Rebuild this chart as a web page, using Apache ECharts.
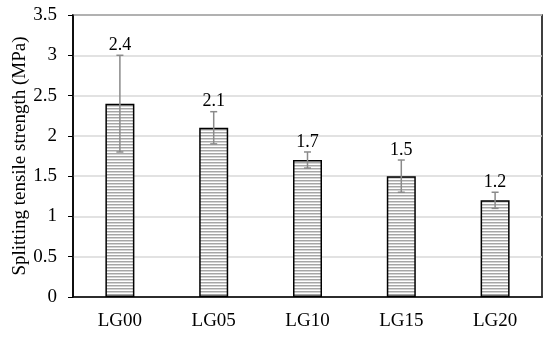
<!DOCTYPE html>
<html><head><meta charset="utf-8">
<script src="https://cdn.jsdelivr.net/npm/echarts@6/dist/echarts.min.js"></script>
<style>html,body{margin:0;padding:0;background:#fff}#c{width:550px;height:337px}</style>
</head><body><div id="c"></div>
<script>
const categories = ['LG00', 'LG05', 'LG10', 'LG15', 'LG20'];
const values = [2.4, 2.1, 1.7, 1.5, 1.2];
const errLow = [1.8, 1.9, 1.6, 1.3, 1.1];
const errHigh = [3.0, 2.3, 1.8, 1.7, 1.3];
const yTicks = [0, 0.5, 1, 1.5, 2, 2.5, 3, 3.5];

const pc = document.createElement('canvas');
pc.width = 4; pc.height = 3;
const g = pc.getContext('2d');
g.fillStyle = '#ffffff'; g.fillRect(0, 0, 4, 3);
g.fillStyle = '#a6a6a6'; g.fillRect(0, 0, 4, 1);
g.fillStyle = '#d4d4d4'; g.fillRect(0, 1, 4, 1);

const font = '"Liberation Serif", "Times New Roman", serif';
const chart = echarts.init(document.getElementById('c'));
chart.setOption({
  animation: false,
  backgroundColor: '#fff',
  grid: { left: 73, right: 8, top: 15, bottom: 40, show: true, borderColor: '#000', borderWidth: 1.5,
          containLabel: false, outerBoundsMode: 'none' },
  xAxis: {
    type: 'category', data: categories,
    axisLine: { show: true, lineStyle: { color: '#000', width: 1.5 } },
    axisTick: { show: false },
    axisLabel: { color: '#000', fontFamily: font, fontSize: 19, margin: 15 }
  },
  yAxis: {
    type: 'value', min: 0, max: 3.5, interval: 0.5,
    name: 'Splitting tensile strength (MPa)', nameLocation: 'middle', nameGap: 43, nameMoveOverlap: false,
    nameTextStyle: { color: '#000', fontFamily: font, fontSize: 19 },
    axisLine: { show: true, lineStyle: { color: '#000', width: 1.5 } },
    axisTick: { show: true, length: 5, lineStyle: { color: '#000' } },
    axisLabel: { color: '#000', fontFamily: font, fontSize: 19, margin: 16,
      formatter: v => yTicks.includes(v) ? String(v) : '' },
    splitLine: { lineStyle: { color: '#d9d9d9', width: 1.5 } }
  },
  series: [
    {
      type: 'bar', data: values, barWidth: 29,
      itemStyle: { color: { image: pc, repeat: 'repeat' }, borderColor: '#000', borderWidth: 1.5 }
    },
    {
      type: 'custom',
      data: categories.map((c, i) => [i, errLow[i], errHigh[i], values[i]]),
      renderItem: function (params, api) {
        const x = api.coord([api.value(0), 0])[0];
        const lo = api.coord([api.value(0), api.value(1)])[1];
        const hi = api.coord([api.value(0), api.value(2)])[1];
        const w = 3.5;
        const st = { stroke: '#8a8a8a', lineWidth: 1.5 };
        return {
          type: 'group',
          children: [
            { type: 'line', shape: { x1: x, y1: lo, x2: x, y2: hi }, style: st },
            { type: 'line', shape: { x1: x - w, y1: lo, x2: x + w, y2: lo }, style: st },
            { type: 'line', shape: { x1: x - w, y1: hi, x2: x + w, y2: hi }, style: st },
            { type: 'text', x: x, y: hi - 1, style: { text: String(api.value(3)), align: 'center', verticalAlign: 'bottom', fill: '#000', font: '18px ' + font } }
          ]
        };
      },
      z: 5
    }
  ]
});
</script></body></html>
